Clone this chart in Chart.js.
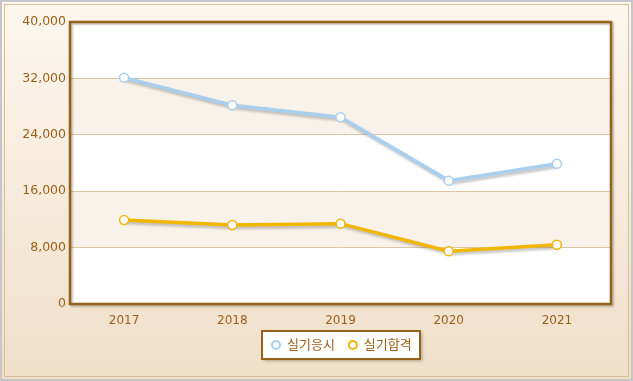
<!DOCTYPE html>
<html>
<head>
<meta charset="utf-8">
<script src="https://cdn.jsdelivr.net/npm/chart.js@4.4.1/dist/chart.umd.min.js"></script>
<style>
html,body{margin:0;padding:0;background:#fff;}
#wrap{position:relative;width:633px;height:381px;}
</style>
</head>
<body>
<div id="wrap"><canvas id="c" width="633" height="381"></canvas></div>
<script>
const categories = ['2017','2018','2019','2020','2021'];
const seriesNames = ['실기응시','실기합격'];
const applied = [32100, 28200, 26500, 17500, 19900];
const passed = [11900, 11200, 11400, 7500, 8400];
const yTicks = [0, 8000, 16000, 24000, 32000, 40000];

const FONT = '"DejaVu Sans", "Noto Sans CJK KR", sans-serif';
const TXT = '#9c5f17';
const colors = ['#a9cfee', '#f0b600'];

const bgPlugin = {
  id: 'bg',
  beforeDraw(chart) {
    const ctx = chart.ctx, W = chart.width, H = chart.height;
    ctx.save();
    ctx.fillStyle = '#c6c6c6';
    ctx.fillRect(0, 0, W, H);
    const g = ctx.createLinearGradient(0, 0, 0, H);
    g.addColorStop(0, '#fdf7ef');
    g.addColorStop(1, '#efdfc9');
    ctx.fillStyle = g;
    ctx.fillRect(2, 2, W - 4, H - 4);
    ctx.strokeStyle = '#d8bf9c';
    ctx.lineWidth = 1;
    ctx.strokeRect(4.5, 4.5, W - 9, H - 9);
    const a = chart.chartArea, y = chart.scales.y;
    ctx.fillStyle = '#ffffff';
    ctx.fillRect(a.left, a.top, a.right - a.left, a.bottom - a.top);
    for (let i = 0; i < yTicks.length - 1; i++) {
      if (i % 2 === 1) {
        const y1 = y.getPixelForValue(yTicks[i + 1]);
        const y0 = y.getPixelForValue(yTicks[i]);
        ctx.fillStyle = '#f9f2ea';
        ctx.fillRect(a.left, y1, a.right - a.left, y0 - y1);
      }
    }
    ctx.restore();
  },
  beforeDatasetsDraw(chart) {
    const ctx = chart.ctx;
    ctx.save();
    ctx.strokeStyle = 'rgba(90,90,90,0.35)';
    ctx.lineWidth = 3.5;
    ctx.lineJoin = 'round';
    ctx.filter = 'blur(1.2px)';
    chart.data.datasets.forEach((d, i) => {
      const pts = chart.getDatasetMeta(i).data;
      ctx.beginPath();
      pts.forEach((p, j) => {
        if (j === 0) ctx.moveTo(p.x + 2, p.y + 2.5); else ctx.lineTo(p.x + 2, p.y + 2.5);
      });
      ctx.stroke();
    });
    ctx.restore();
  },
  afterDatasetsDraw(chart) {
    const ctx = chart.ctx, a = chart.chartArea;
    ctx.save();
    ctx.shadowColor = 'rgba(80,60,30,0.35)';
    ctx.shadowOffsetX = 1.5;
    ctx.shadowOffsetY = 1.5;
    ctx.shadowBlur = 2;
    ctx.strokeStyle = '#95621c';
    ctx.lineWidth = 2.5;
    ctx.strokeRect(a.left, a.top, a.right - a.left, a.bottom - a.top);
    ctx.restore();
  },
  afterDraw(chart) {
    const ctx = chart.ctx;
    ctx.save();
    ctx.font = '13px ' + FONT;
    const ds = chart.data.datasets;
    const markerW = 12, gap = 5, itemGap = 12, padX = 8;
    let total = padX * 2;
    const widths = ds.map(d => ctx.measureText(d.label).width);
    widths.forEach((w, i) => { total += markerW + gap + w + (i < widths.length - 1 ? itemGap : 0); });
    const cx = (chart.chartArea.left + chart.chartArea.right) / 2;
    const bx = Math.round(cx - total / 2), by = 331, bw = Math.round(total), bh = 28;
    ctx.shadowColor = 'rgba(80,60,30,0.4)';
    ctx.shadowOffsetX = 2; ctx.shadowOffsetY = 2; ctx.shadowBlur = 3;
    ctx.fillStyle = '#ffffff';
    ctx.fillRect(bx, by, bw, bh);
    ctx.shadowColor = 'transparent';
    ctx.strokeStyle = '#95621c';
    ctx.lineWidth = 2;
    ctx.strokeRect(bx, by, bw, bh);
    let x = bx + padX;
    const my = by + bh / 2;
    ds.forEach((d, i) => {
      ctx.beginPath();
      ctx.arc(x + markerW / 2, my, 4, 0, Math.PI * 2);
      ctx.fillStyle = '#fff';
      ctx.fill();
      ctx.lineWidth = 2;
      ctx.strokeStyle = d.borderColor;
      ctx.stroke();
      x += markerW + gap;
      ctx.fillStyle = TXT;
      ctx.textBaseline = 'middle';
      ctx.textAlign = 'left';
      ctx.fillText(d.label, x, my + 1);
      x += widths[i] + itemGap;
    });
    ctx.restore();
  }
};

new Chart(document.getElementById('c'), {
  type: 'line',
  data: {
    labels: categories,
    datasets: [
      { label: seriesNames[0], data: applied, borderColor: colors[0], backgroundColor: '#ffffff',
        borderWidth: 3.5, pointRadius: 4.5, pointBorderWidth: 1.5, pointBackgroundColor: '#ffffff',
        pointBorderColor: colors[0], tension: 0 },
      { label: seriesNames[1], data: passed, borderColor: colors[1], backgroundColor: '#ffffff',
        borderWidth: 3.5, pointRadius: 4.5, pointBorderWidth: 1.5, pointBackgroundColor: '#ffffff',
        pointBorderColor: colors[1], tension: 0 }
    ]
  },
  options: {
    responsive: false,
    animation: false,
    events: [],
    layout: { padding: { top: 22, right: 22, bottom: 0, left: 0 } },
    plugins: { legend: { display: false }, tooltip: { enabled: false } },
    scales: {
      x: {
        offset: true,
        grid: { display: false, drawTicks: false },
        border: { display: false },
        ticks: { color: TXT, font: { family: FONT, size: 12 }, padding: 10 },
        afterFit(s) { s.height = 77; }
      },
      y: {
        min: 0, max: 40000,
        afterBuildTicks(s) { s.ticks = yTicks.map(v => ({ value: v })); },
        grid: { color: '#dcc6a6', lineWidth: 1, drawTicks: false },
        border: { display: false },
        ticks: { color: TXT, font: { family: FONT, size: 12.5 }, padding: 4,
          callback: v => v.toLocaleString('en-US') },
        afterFit(s) { s.width = 70; }
      }
    }
  },
  plugins: [bgPlugin]
});
</script>
</body>
</html>
